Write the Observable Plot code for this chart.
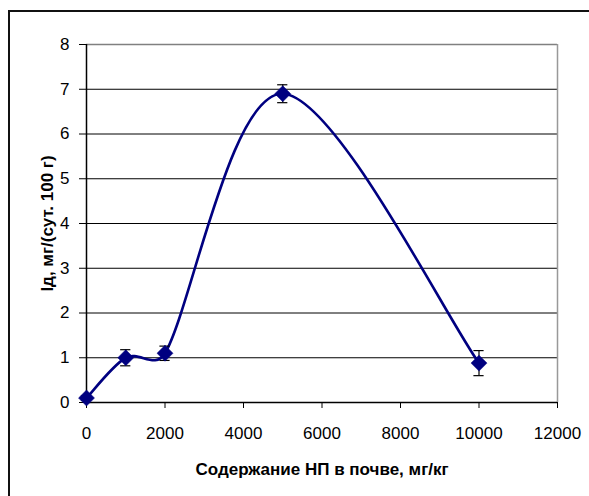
<!DOCTYPE html>
<html>
<head>
<meta charset="utf-8">
<script src="https://cdn.jsdelivr.net/npm/d3@7"></script>
<script src="https://cdn.jsdelivr.net/npm/@observablehq/plot@0.6"></script>
<style>
  html, body { margin: 0; padding: 0; background: #fff; overflow: hidden; width: 589px; height: 496px; }
  #chart { position: absolute; left: 0; top: 0; }
  #frame { position: absolute; left: 8px; top: 10px; width: 800px; height: 800px; border: 2px solid #111; box-sizing: border-box; pointer-events: none; }
</style>
</head>
<body>
<div id="chart"></div>
<div id="frame"></div>
<script>
const xValues = [0, 1000, 2000, 5000, 10000];
const yValues = [0.1, 1.0, 1.1, 6.9, 0.88];
const yErrors = [0.05, 0.18, 0.16, 0.2, 0.28];
const xTicks = [0, 2000, 4000, 6000, 8000, 10000, 12000];
const yTicks = [0, 1, 2, 3, 4, 5, 6, 7, 8];
const gridValues = [1, 2, 3, 4, 5, 6, 7];
const xTitle = "Содержание НП в почве, мг/кг";
const yTitle = "Iд, мг/(сут. 100 г)";

const data = xValues.map((x, i) => ({x, y: yValues[i], e: yErrors[i]}));
const capHalf = 130; // half-width of error-bar caps, in x units

// Spreadsheet-style smoothed line: cubic Bezier, tangent factor 1/6,
// control-point offset limited to half the segment length.
function ExcelSmooth(context) { this._context = context; }
ExcelSmooth.prototype = {
  areaStart() { this._line = 0; },
  areaEnd() { this._line = NaN; },
  lineStart() { this._pts = []; },
  point(x, y) { this._pts.push([+x, +y]); },
  lineEnd() {
    const p = this._pts, n = p.length, c = this._context;
    if (!n) return;
    if (this._line) c.lineTo(p[0][0], p[0][1]); else c.moveTo(p[0][0], p[0][1]);
    const dist = (a, b) => Math.hypot(b[0] - a[0], b[1] - a[1]);
    for (let i = 0; i < n - 1; i++) {
      const P0 = p[Math.max(0, i - 1)], P1 = p[i], P2 = p[i + 1], P3 = p[Math.min(n - 1, i + 2)];
      const d12 = dist(P1, P2), d02 = dist(P0, P2), d13 = dist(P1, P3);
      let f1 = 1 / 6, f2 = 1 / 6;
      if (d02 / 6 > d12 / 2 && d02 > 0) f1 = d12 / 2 / d02;
      if (d13 / 6 > d12 / 2 && d13 > 0) f2 = d12 / 2 / d13;
      const c1 = [P1[0] + (P2[0] - P0[0]) * f1, P1[1] + (P2[1] - P0[1]) * f1];
      const c2 = [P2[0] - (P3[0] - P1[0]) * f2, P2[1] - (P3[1] - P1[1]) * f2];
      c.bezierCurveTo(c1[0], c1[1], c2[0], c2[1], P2[0], P2[1]);
    }
  }
};
const excelSmooth = (context) => new ExcelSmooth(context);

const navy = "#000080";
const font = "'Liberation Sans', Arial, sans-serif";

const chart = Plot.plot({
  width: 589,
  height: 496,
  marginLeft: 86,
  marginRight: 32,
  marginTop: 44,
  marginBottom: 94,
  style: {fontFamily: font, fontSize: "17px", color: "#000", background: "#fff"},
  x: {domain: [0, 12000]},
  y: {domain: [0, 8]},
  marks: [
    Plot.ruleY(gridValues, {stroke: "#000", strokeWidth: 1}),
    Plot.ruleY([8], {stroke: "#808080", strokeWidth: 1.5}),
    Plot.ruleX([12000], {y1: 0, y2: 8, stroke: "#999", strokeWidth: 1.5}),
    Plot.ruleY([0], {stroke: "#000", strokeWidth: 1.5}),
    Plot.ruleX([0], {y1: 0, y2: 8, stroke: "#000", strokeWidth: 1.5}),
    Plot.axisX({ticks: xTicks, tickFormat: d => String(d), tickSize: 6, tickPadding: 18, label: null, fontSize: 17, stroke: "#000"}),
    Plot.axisY({ticks: yTicks, tickFormat: d => String(d), tickSize: 7, tickPadding: 10, label: null, fontSize: 17, stroke: "#000"}),
    Plot.line(data, {x: "x", y: "y", stroke: navy, strokeWidth: 2.6, curve: excelSmooth}),
    Plot.ruleX(data, {x: "x", y1: d => d.y - d.e, y2: d => d.y + d.e, stroke: "#000", strokeWidth: 1.2}),
    Plot.ruleY(data, {y: d => d.y - d.e, x1: d => d.x - capHalf, x2: d => d.x + capHalf, stroke: "#000", strokeWidth: 1.2}),
    Plot.ruleY(data, {y: d => d.y + d.e, x1: d => d.x - capHalf, x2: d => d.x + capHalf, stroke: "#000", strokeWidth: 1.2}),
    Plot.dot(data, {x: "x", y: "y", symbol: "diamond2", r: 7.2, fill: navy, stroke: navy, strokeWidth: 0.5}),
    Plot.text([xTitle], {frameAnchor: "bottom", dy: 72, fontWeight: "bold", fontSize: 17, fill: "#000", textAnchor: "middle", lineAnchor: "bottom"}),
    Plot.text([yTitle], {frameAnchor: "left", dx: -39, rotate: -90, fontWeight: "bold", fontSize: 17, fill: "#000", textAnchor: "middle"})
  ]
});
document.getElementById("chart").appendChild(chart);
</script>
</body>
</html>
